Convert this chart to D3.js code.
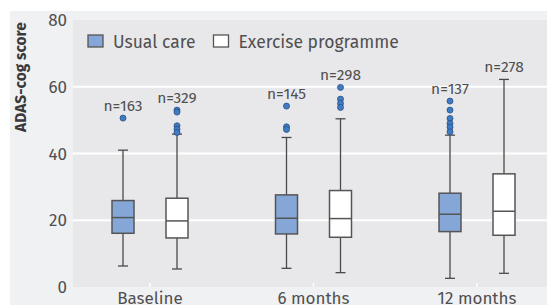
<!DOCTYPE html>
<html lang="en">
<head>
<meta charset="UTF-8">
<title>ADAS-cog boxplot</title>
<script src="https://d3js.org/d3.v7.min.js"></script>
<style>
  body {margin:0; background:#fff;}
  text {font-family:"Fira Sans","Open Sans","Noto Sans",sans-serif; fill:#505050;}
</style>
</head>
<body>
<div id="chart"></div>
<script>
// categories + groups
var timepoints = ["Baseline", "6 months", "12 months"];
var groups = ["Usual care", "Exercise programme"];
var yTicks = [0, 20, 40, 60, 80];

// box stats: [lowWhisker, q1, median, q3, highWhisker]
var usualStats = [
  [6.3, 16.1, 20.8, 25.9, 41.0],
  [5.6, 15.9, 20.6, 27.6, 44.8],
  [2.6, 16.6, 21.8, 28.1, 45.5]
];
var exerciseStats = [
  [5.4, 14.7, 19.8, 26.6, 45.8],
  [4.3, 14.9, 20.5, 28.9, 50.4],
  [4.1, 15.5, 22.7, 33.9, 62.2]
];
var usualOutliers = [
  [50.6],
  [54.2, 48.0, 47.2],
  [55.7, 53.0, 50.5, 49.0, 47.9, 46.5]
];
var exerciseOutliers = [
  [53.0, 52.4, 48.3, 47.3, 46.3],
  [59.8, 56.3, 55.0, 53.8],
  []
];
var usualN = [163, 145, 137];
var exerciseN = [329, 298, 278];

var W = 547, H = 305;
var panel = {left: 73, top: 20, right: 547, bottom: 287};

var svg = d3.select("#chart").append("svg")
    .attr("width", W).attr("height", H);

var y = d3.scaleLinear().domain([0, 80]).range([panel.bottom, panel.top]);
var x = d3.scalePoint().domain(timepoints).range([150, 477]);
var xg = d3.scalePoint().domain(groups).range([-27, 27]);
var boxW = 22;

// backgrounds
svg.append("rect").attr("x", 10).attr("y", 11).attr("width", W - 10).attr("height", H - 11)
    .attr("fill", "#f0f1f3");
svg.append("rect").attr("x", panel.left).attr("y", panel.top)
    .attr("width", panel.right - panel.left).attr("height", panel.bottom - panel.top)
    .attr("fill", "#e8e8eb");

// gridlines
svg.append("g").selectAll("line").data(yTicks.filter(function(d){ return d > 0 && d < 80; }))
  .enter().append("line")
    .attr("x1", panel.left).attr("x2", panel.right)
    .attr("y1", function(d){ return y(d); }).attr("y2", function(d){ return y(d); })
    .attr("stroke", "#fff").attr("stroke-width", 2);

// y axis labels
svg.append("g").selectAll("text").data(yTicks).enter().append("text")
    .attr("x", 67).attr("y", function(d){ return y(d) + 6; })
    .attr("text-anchor", "end").attr("font-size", 17)
    .text(function(d){ return d; });

svg.append("text")
    .attr("transform", "translate(26,77) rotate(-90)")
    .attr("text-anchor", "middle").attr("font-size", 15.5).attr("font-weight", "bold")
    .style("fill", "#3a3a3a")
    .text("ADAS-cog score");

// x ticks (small white marks) and labels
svg.append("g").selectAll("line").data(timepoints).enter().append("line")
    .attr("x1", function(d){ return x(d); }).attr("x2", function(d){ return x(d); })
    .attr("y1", panel.bottom - 4).attr("y2", panel.bottom)
    .attr("stroke", "#fff").attr("stroke-width", 1.5);
svg.append("g").selectAll("text").data(timepoints).enter().append("text")
    .attr("x", function(d){ return x(d); }).attr("y", 304)
    .attr("text-anchor", "middle").attr("font-size", 17)
    .text(function(d){ return d; });

function drawGroup(stats, outliers, ns, group, fill) {
  var g = svg.append("g");
  stats.forEach(function(s, i) {
    var cx = x(timepoints[i]) + xg(group);
    var top = outliers[i].length ? d3.max(outliers[i]) : s[4];
    // whisker
    g.append("line").attr("x1", cx).attr("x2", cx)
        .attr("y1", y(s[0])).attr("y2", y(s[4]))
        .attr("stroke", "#4a4a4a").attr("stroke-width", 1.3);
    [s[0], s[4]].forEach(function(v) {
      g.append("line").attr("x1", cx - 5).attr("x2", cx + 5)
          .attr("y1", y(v)).attr("y2", y(v))
          .attr("stroke", "#4a4a4a").attr("stroke-width", 1.3);
    });
    // box
    g.append("rect").attr("x", cx - boxW / 2).attr("y", y(s[3]))
        .attr("width", boxW).attr("height", y(s[1]) - y(s[3]))
        .attr("fill", fill).attr("stroke", "#555").attr("stroke-width", 1.5);
    g.append("line").attr("x1", cx - boxW / 2).attr("x2", cx + boxW / 2)
        .attr("y1", y(s[2])).attr("y2", y(s[2]))
        .attr("stroke", "#555").attr("stroke-width", 1.5);
    // outliers
    g.selectAll(null).data(outliers[i]).enter().append("circle")
        .attr("cx", cx).attr("cy", function(d){ return y(d); }).attr("r", 3)
        .attr("fill", "#3f7cc6").attr("stroke", "#2b4f80").attr("stroke-width", 0.8);
    // n label
    g.append("text").attr("x", cx).attr("y", y(top) - 7)
        .attr("text-anchor", "middle").attr("font-size", 15.5)
        .text("n=" + ns[i]);
  });
}
drawGroup(usualStats, usualOutliers, usualN, groups[0], "#84a7d8");
drawGroup(exerciseStats, exerciseOutliers, exerciseN, groups[1], "#ffffff");

// legend
var legX = [88, 213.5];
var legend = svg.append("g").selectAll("g").data(groups).enter().append("g")
    .attr("transform", function(d, i){ return "translate(" + legX[i] + ",35)"; });
legend.append("rect").attr("width", 15).attr("height", 12)
    .attr("fill", function(d, i){ return i === 0 ? "#84a7d8" : "#fff"; })
    .attr("stroke", "#555").attr("stroke-width", 1.3);
legend.append("text").attr("x", 25).attr("y", 12.5).attr("font-size", 17.5)
    .text(function(d){ return d; });
</script>
</body>
</html>
